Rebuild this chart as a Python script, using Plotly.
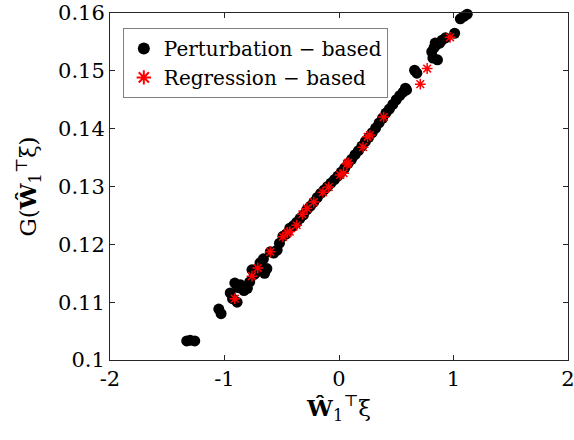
import plotly.graph_objects as go

# Perturbation-based estimates (black dots)
pert_x = [-1.33, -1.30, -1.26,
          -1.05, -1.03,
          -0.95, -0.93, -0.91, -0.89, -0.88, -0.86, -0.83, -0.80, -0.78, -0.76,
          -0.74, -0.72, -0.69, -0.66, -0.65, -0.63, -0.60, -0.57, -0.54, -0.52,
          -0.49, -0.46, -0.43, -0.40, -0.37, -0.34, -0.31, -0.28, -0.25, -0.22,
          -0.19, -0.16, -0.13, -0.10, -0.07, -0.04, -0.01, 0.02, 0.05, 0.08,
          0.11, 0.14, 0.17, 0.20, 0.23, 0.26, 0.29, 0.32, 0.35, 0.38, 0.41,
          0.44, 0.47, 0.50, 0.53, 0.56, 0.58, 0.59,
          0.66, 0.68,
          0.81, 0.82, 0.84, 0.86, 0.83, 0.90, 0.93, 0.85, 0.88,
          1.01, 1.06, 1.09, 1.12]
pert_y = [0.1033, 0.1034, 0.1033,
          0.1088, 0.1080,
          0.1116, 0.1106, 0.1133, 0.1100, 0.1125, 0.1130, 0.1120, 0.1124, 0.1135, 0.1156,
          0.1148, 0.1152, 0.1168, 0.1175, 0.1150, 0.1158, 0.1187, 0.1185, 0.1190, 0.1202,
          0.1214, 0.1218, 0.1228, 0.1232, 0.1238, 0.1245, 0.1251, 0.1260, 0.1266, 0.1273,
          0.1281, 0.1288, 0.1294, 0.1300, 0.1306, 0.1312, 0.1318, 0.1325, 0.1332, 0.1340,
          0.1347, 0.1355, 0.1362, 0.1370, 0.1378, 0.1385, 0.1393, 0.1401, 0.1410, 0.1418, 0.1427,
          0.1434, 0.1442, 0.1450, 0.1457, 0.1463, 0.1470, 0.1467,
          0.1501, 0.1496,
          0.1533, 0.1522, 0.1548, 0.1519, 0.1540, 0.1553, 0.1557, 0.1545, 0.1548,
          0.1565, 0.1590, 0.1594, 0.1598]

# Regression-based estimates (red asterisks)
reg_x = [-0.91, -0.76, -0.71, -0.60, -0.49, -0.45, -0.43, -0.37, -0.32, -0.28,
         -0.22, -0.14, -0.09, 0.01, 0.04, 0.07, 0.08, 0.21, 0.25, 0.27, 0.39,
         0.71, 0.77, 0.97]
reg_y = [0.1106, 0.1145, 0.1159, 0.1187, 0.1213, 0.1220, 0.1222, 0.1233, 0.1252, 0.1262,
         0.1273, 0.1290, 0.1299, 0.1320, 0.1323, 0.1339, 0.1341, 0.1368, 0.1386, 0.1389, 0.1420,
         0.1477, 0.1504, 0.1558]

x_ticks = [-2, -1, 0, 1, 2]
x_tick_text = ["-2", "-1", "0", "1", "2"]
y_ticks = [0.10, 0.11, 0.12, 0.13, 0.14, 0.15, 0.16]
y_tick_text = ["0.1", "0.11", "0.12", "0.13", "0.14", "0.15", "0.16"]

FONT = "DejaVu Serif, Liberation Serif, serif"
AX = "#262626"

fig = go.Figure()
fig.add_trace(go.Scatter(
    x=pert_x, y=pert_y, mode="markers", name="Perturbation \u2212 based",
    marker=dict(color="black", size=11, line=dict(width=0)),
    cliponaxis=False))
fig.add_trace(go.Scatter(
    x=reg_x, y=reg_y, mode="markers", name="Regression \u2212 based",
    marker=dict(symbol="asterisk-open", color="red", size=9,
                line=dict(color="red", width=1.5)),
    cliponaxis=False))

axis_common = dict(showline=True, linecolor=AX, linewidth=1, mirror="ticks",
                   ticks="inside", ticklen=5, tickcolor=AX, tickwidth=1,
                   showgrid=False, zeroline=False, automargin=False,
                   ticklabeloverflow="allow",
                   tickfont=dict(family=FONT, size=21, color="black"))

fig.update_layout(
    width=574, height=440,
    margin=dict(l=110, r=6, t=13, b=80),
    paper_bgcolor="white", plot_bgcolor="white",
    showlegend=True,
    legend=dict(x=0.028, y=0.957, xanchor="left", yanchor="top",
                bordercolor="#7f7f7f", borderwidth=1, bgcolor="white",
                font=dict(family=FONT, size=20, color="black"),
                itemsizing="constant", tracegroupgap=0),
    xaxis=dict(range=[-2.0001, 2.0001], tickvals=x_ticks, ticktext=x_tick_text,
               title=dict(text="<b>W\u0302</b><sub>1</sub><sup>\u22a4</sup>\u03be",
                          font=dict(family=FONT, size=23, color="black"), standoff=2),
               **axis_common),
    yaxis=dict(range=[0.099999, 0.160001], tickvals=y_ticks, ticktext=y_tick_text,
               title=dict(text="G(<b>W\u0302</b><sub>1</sub><sup>\u22a4</sup>\u03be)",
                          font=dict(family=FONT, size=23, color="black"), standoff=14),
               **axis_common),
)

# Remove the browser's default 8px body margin so the figure sits at the page corner.
fig.write_html("out.html", config={"displayModeBar": False},
               post_script="document.body.style.margin='0';")
